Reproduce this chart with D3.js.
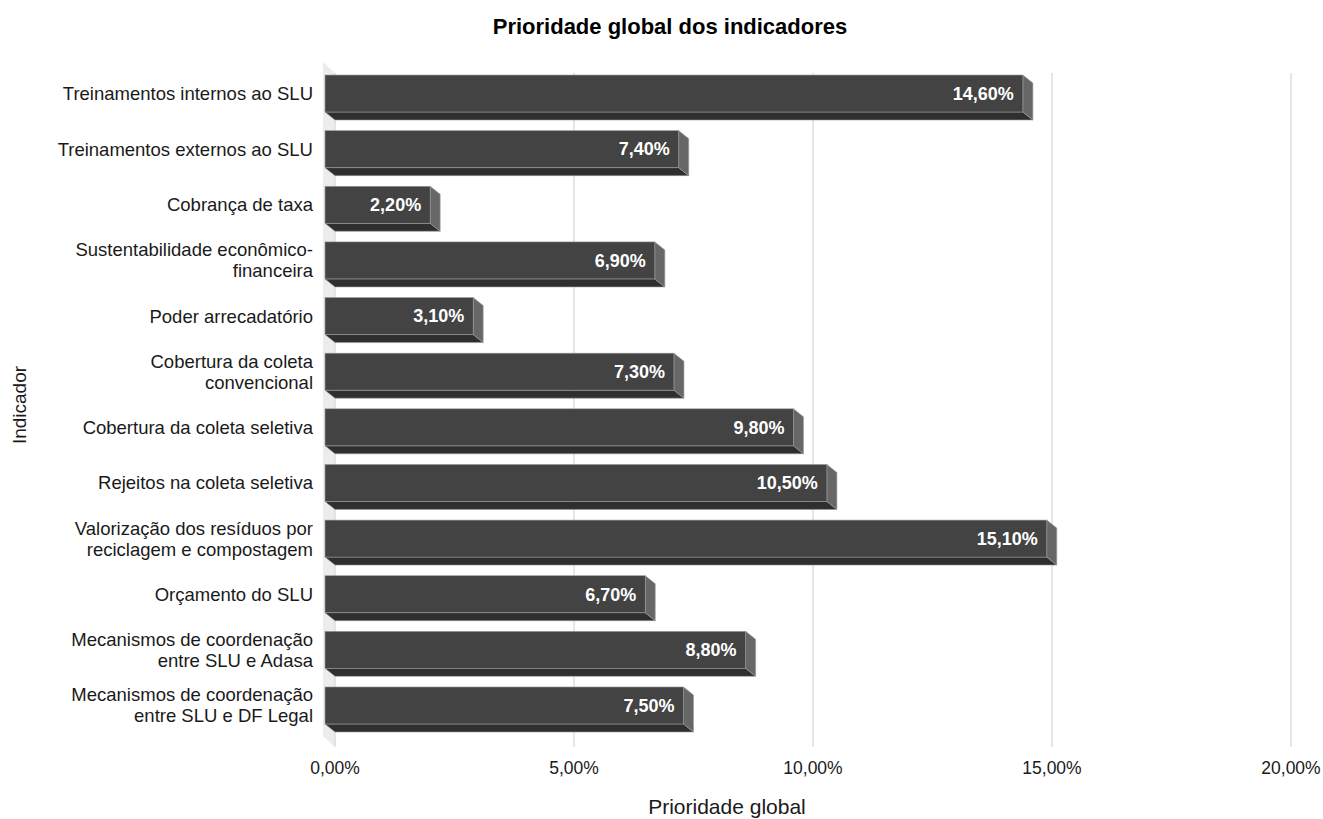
<!DOCTYPE html>
<html><head><meta charset="utf-8">
<script src="https://cdn.jsdelivr.net/npm/d3@7"></script>
<style>html,body{margin:0;padding:0;background:#fff;}svg{display:block;font-family:"Liberation Sans",Arial,sans-serif;}</style>
</head><body><svg id="chart" width="1323" height="819"></svg>
<script>
const categories = [
  ["Treinamentos internos ao SLU"],
  ["Treinamentos externos ao SLU"],
  ["Cobrança de taxa"],
  ["Sustentabilidade econômico-", "financeira"],
  ["Poder arrecadatório"],
  ["Cobertura da coleta", "convencional"],
  ["Cobertura da coleta seletiva"],
  ["Rejeitos na coleta seletiva"],
  ["Valorização dos resíduos por", "reciclagem e compostagem"],
  ["Orçamento do SLU"],
  ["Mecanismos de coordenação", "entre SLU e Adasa"],
  ["Mecanismos de coordenação", "entre SLU e DF Legal"]
];
const values = [14.6, 7.4, 2.2, 6.9, 3.1, 7.3, 9.8, 10.5, 15.1, 6.7, 8.8, 7.5];
const xTicks = [0, 5, 10, 15, 20];
const titleText = "Prioridade global dos indicadores";
const xTitle = "Prioridade global";
const yTitle = "Indicador";

const fmt = v => v.toFixed(2).replace(".", ",") + "%";
const svg = d3.select("#chart");
const keys = categories.map((c, i) => i);
const x = d3.scaleLinear().domain([0, 20]).range([335, 1291]);
const y = d3.scaleBand().domain(keys).range([73, 742]).paddingInner(0.335).paddingOuter(0.18);
const dx = 10, dy = 8;       // bar depth
const wdx = 12, wdy = 11;    // wall depth
const gTop = 73, gBot = 747;

// side wall
svg.append("polygon")
  .attr("points", [[x(0) - wdx, gTop - wdy], [x(0), gTop], [x(0), gBot], [x(0) - wdx, gBot - wdy]].map(p => p.join(",")).join(" "))
  .attr("fill", "#ececec");

// gridlines
svg.append("g").selectAll("line").data(xTicks).join("line")
  .attr("x1", d => x(d)).attr("x2", d => x(d))
  .attr("y1", gTop).attr("y2", gBot)
  .attr("stroke", "#dedede").attr("stroke-width", 1.5);

// bars
const bars = svg.append("g").selectAll("g").data(keys).join("g");
bars.each(function(i) {
  const g = d3.select(this);
  const x0 = x(0), x1 = x(values[i]);
  const yb = y(i), h = y.bandwidth();
  g.append("polygon")
    .attr("points", [[x0 - dx, yb - dy + h], [x1 - dx, yb - dy + h], [x1, yb + h], [x0, yb + h]].map(p => p.join(",")).join(" "))
    .attr("fill", "#2f2f2f").attr("stroke", "#9a9a9a").attr("stroke-width", 0.6);
  g.append("polygon")
    .attr("points", [[x1 - dx, yb - dy], [x1, yb], [x1, yb + h], [x1 - dx, yb - dy + h]].map(p => p.join(",")).join(" "))
    .attr("fill", "#676767").attr("stroke", "#9a9a9a").attr("stroke-width", 0.6);
  g.append("rect")
    .attr("x", x0 - dx).attr("y", yb - dy)
    .attr("width", x1 - x0).attr("height", h)
    .attr("fill", "#434343").attr("stroke", "#9a9a9a").attr("stroke-width", 0.6);
  g.append("text")
    .attr("x", x1 - dx - 9).attr("y", yb - dy + h / 2)
    .attr("dy", "0.35em").attr("text-anchor", "end")
    .attr("fill", "#fff").attr("font-weight", "bold").attr("font-size", 18)
    .text(fmt(values[i]));
});

// category labels
const lab = svg.append("g").selectAll("text").data(keys).join("text")
  .attr("text-anchor", "end").attr("font-size", 18.5).attr("fill", "#1a1a1a");
lab.each(function(i) {
  const lines = categories[i];
  const cy = y(i) - dy + y.bandwidth() / 2;
  const lh = 21;
  const start = cy - (lines.length - 1) * lh / 2;
  d3.select(this).selectAll("tspan").data(lines).join("tspan")
    .attr("x", 313).attr("y", (d, j) => start + j * lh).attr("dy", "0.35em").text(d => d);
});

// x tick labels
svg.append("g").selectAll("text").data(xTicks).join("text")
  .attr("x", d => x(d)).attr("y", 774).attr("text-anchor", "middle")
  .attr("font-size", 17.5).attr("fill", "#1a1a1a")
  .text(d => fmt(d));

// titles
svg.append("text").attr("x", 670).attr("y", 34).attr("text-anchor", "middle")
  .attr("font-size", 22).attr("font-weight", "bold").attr("fill", "#000").text(titleText);
svg.append("text").attr("x", 727).attr("y", 814).attr("text-anchor", "middle")
  .attr("font-size", 21).attr("fill", "#1a1a1a").text(xTitle);
svg.append("text").attr("transform", "translate(26,405) rotate(-90)").attr("text-anchor", "middle")
  .attr("font-size", 19).attr("fill", "#1a1a1a").text(yTitle);
</script></body></html>
